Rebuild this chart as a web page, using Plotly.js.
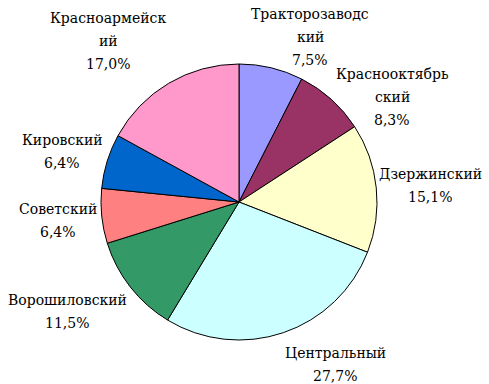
<!DOCTYPE html>
<html>
<head>
<meta charset="utf-8">
<script src="https://cdn.plot.ly/plotly-3.0.1.min.js"></script>
<style>html,body{margin:0;padding:0;background:#fff}#chart{width:489px;height:384px}</style>
</head>
<body>
<div id="chart"></div>
<script>
var categories = ["Тракторозаводский","Краснооктябрьский","Дзержинский","Центральный","Ворошиловский","Советский","Кировский","Красноармейский"];
var labelLines = [["Тракторозаводс","кий"],["Краснооктябрь","ский"],["Дзержинский"],["Центральный"],["Ворошиловский"],["Советский"],["Кировский"],["Красноармейск","ий"]];
var shares = [7.5, 8.3, 15.1, 27.7, 11.5, 6.4, 6.4, 17.0];
var colors = ["#9999FF","#993366","#FFFFCC","#CCFFFF","#339966","#FF8080","#0066CC","#FF99CC"];

var W = 489, H = 384;
// label block centre x and first-line y (pixels)
var labelPos = [[310,14],[392,74],[430,174],[335,353],[67,300],[58,209],[62,140],[108,18]];
var lineGap = 23;

var annotations = [];
categories.forEach(function(c, i){
  var lines = labelLines[i].concat([shares[i].toFixed(1).replace('.', ',') + '%']);
  lines.forEach(function(t, k){
    annotations.push({
      text: t, showarrow: false, xref: 'paper', yref: 'paper',
      x: labelPos[i][0] / W, y: 1 - (labelPos[i][1] + k * lineGap) / H,
      xanchor: 'center', yanchor: 'middle',
      font: {family: 'DejaVu Serif', size: 14, color: '#000'}
    });
  });
});

var cx = 239, cy = 202, r = 138;
var trace = {
  type: 'pie', labels: categories, values: shares, sort: false,
  direction: 'clockwise', rotation: 0, textinfo: 'none', hoverinfo: 'label+percent',
  marker: {colors: colors, line: {color: '#000', width: 1}},
  domain: {x: [(cx - r) / W, (cx + r) / W], y: [(H - cy - r) / H, (H - cy + r) / H]}
};
Plotly.newPlot('chart', [trace], {
  width: W, height: H, margin: {l:0, r:0, t:0, b:0},
  showlegend: false, paper_bgcolor: '#fff', annotations: annotations
}, {displayModeBar: false, staticPlot: true});
</script>
</body>
</html>
